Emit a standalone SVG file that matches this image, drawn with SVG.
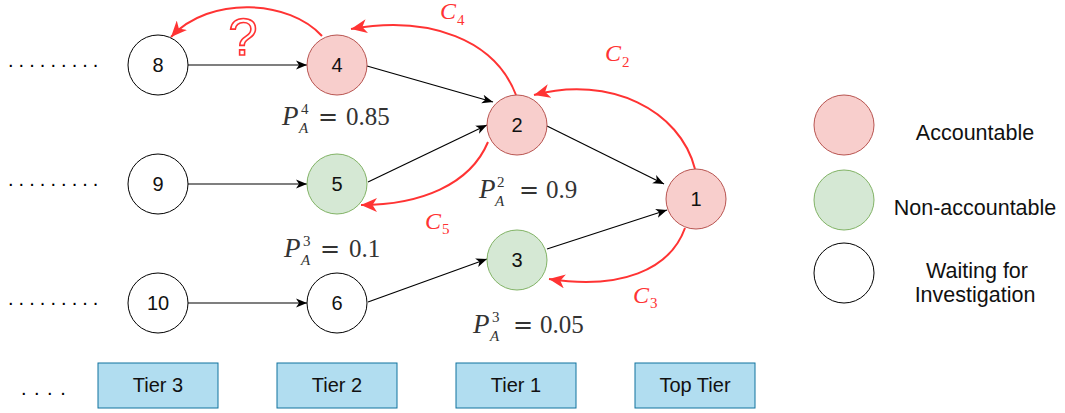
<svg xmlns="http://www.w3.org/2000/svg" width="1065" height="413" viewBox="0 0 1065 413">
<style>
.w{fill:#fff;stroke:#000;stroke-width:1}
.r{fill:#f8cecc;stroke:#b85450;stroke-width:1}
.g{fill:#d5e8d4;stroke:#82b366;stroke-width:1}
.nl{font-family:"Liberation Sans",Arial,sans-serif;font-size:20px;text-anchor:middle;fill:#111}
.lg{font-family:"Liberation Sans",Arial,sans-serif;font-size:21.5px;text-anchor:middle;fill:#111}
.tb{fill:#b1ddf0;stroke:#10739e;stroke-width:1}
.m{font-family:"Liberation Serif","DejaVu Serif",serif;fill:#333;font-size:25px}
.mi{font-style:italic;font-size:27px}
.ms{font-size:15px}
.eq{font-family:"DejaVu Serif",serif;font-size:24px}
.c{font-family:"Liberation Serif","DejaVu Serif",serif;fill:#ff3333;font-style:italic;font-size:24px}
.cs{font-style:normal;font-size:15px}
.bl{fill:none;stroke:#000;stroke-width:1.2;marker-end:url(#ab)}
.rl{fill:none;stroke:#ff3333;stroke-width:2;marker-end:url(#ar)}
.dots{font-family:"Liberation Sans",Arial,sans-serif;font-size:20px;fill:#000}
</style>
<defs>
<marker id="ab" markerUnits="userSpaceOnUse" markerWidth="12" markerHeight="10" refX="11" refY="5" orient="auto" viewBox="0 0 12 10"><path d="M0,0.5 L11,5 L0,9.5 L3,5 Z" fill="#000"/></marker>
<marker id="ar" markerUnits="userSpaceOnUse" markerWidth="17" markerHeight="14" refX="16" refY="7" orient="auto" viewBox="0 0 17 14"><path d="M0,0 L16,7 L0,14 L4.5,7 Z" fill="#ff3333"/></marker>
</defs>
<rect width="1065" height="413" fill="#fff"/>

<g id="dots">
<text class="dots" x="8" y="67" letter-spacing="5.05">.........</text>
<text class="dots" x="8" y="186" letter-spacing="5.05">.........</text>
<text class="dots" x="8" y="305" letter-spacing="5.05">.........</text>
<text class="dots" x="21" y="395" letter-spacing="7.5">....</text>
</g>

<g id="connectors">
<path class="bl" d="M188 65 L307 65"/>
<path class="bl" d="M188 184 L307 184"/>
<path class="bl" d="M188 303 L307 303"/>
<path class="bl" d="M367 66 L493 102"/>
<path class="bl" d="M368 182 L487 125"/>
<path class="bl" d="M547 126 L664 184"/>
<path class="bl" d="M368 302 L487 259"/>
<path class="bl" d="M547 249 L667 210"/>
<path class="rl" d="M322 36 C290 0, 210 -5, 171 37"/>
<path class="rl" d="M516 95 C495 40, 430 15, 351 29"/>
<path class="rl" d="M695 169 C680 110, 610 75, 534 95"/>
<path class="rl" d="M488 142 C470 185, 420 205, 361 205"/>
<path class="rl" d="M685 228 C670 270, 620 290, 549 279"/>
</g>

<g id="node-8"><circle class="w" cx="158" cy="65" r="30"/><text class="nl" x="158" y="72">8</text></g>
<g id="node-9"><circle class="w" cx="158" cy="184" r="30"/><text class="nl" x="158" y="191">9</text></g>
<g id="node-10"><circle class="w" cx="158" cy="303" r="30"/><text class="nl" x="158" y="310">10</text></g>
<g id="node-4"><circle class="r" cx="337" cy="65" r="30"/><text class="nl" x="337" y="72">4</text></g>
<g id="node-5"><circle class="g" cx="337" cy="184" r="30"/><text class="nl" x="337" y="191">5</text></g>
<g id="node-6"><circle class="w" cx="337" cy="303" r="30"/><text class="nl" x="337" y="310">6</text></g>
<g id="node-2"><circle class="r" cx="517" cy="125" r="30"/><text class="nl" x="517" y="132">2</text></g>
<g id="node-3"><circle class="g" cx="517" cy="260" r="30"/><text class="nl" x="517" y="267">3</text></g>
<g id="node-1"><circle class="r" cx="696" cy="199" r="30"/><text class="nl" x="696" y="206">1</text></g>

<g id="question"><text x="243" y="55" font-family="Liberation Sans,Arial,sans-serif" font-size="52" text-anchor="middle" fill="#fff" stroke="#ff3333" stroke-width="1.6">?</text></g>

<g id="label-p4">
<text class="m mi" x="282" y="125">P</text>
<text class="m ms" x="301" y="114">4</text>
<text class="m ms" x="299" y="133" font-style="italic">A</text>
<text class="m eq" x="318" y="125">=</text>
<text class="m" x="346" y="125">0.85</text>
</g>
<g id="label-p2">
<text class="m mi" x="479" y="198">P</text>
<text class="m ms" x="497" y="187">2</text>
<text class="m ms" x="495" y="206" font-style="italic">A</text>
<text class="m eq" x="519" y="198">=</text>
<text class="m" x="546" y="198">0.9</text>
</g>
<g id="label-p3a">
<text class="m mi" x="284" y="257">P</text>
<text class="m ms" x="303" y="246">3</text>
<text class="m ms" x="301" y="265" font-style="italic">A</text>
<text class="m eq" x="320" y="257">=</text>
<text class="m" x="349" y="257">0.1</text>
</g>
<g id="label-p3b">
<text class="m mi" x="473" y="333">P</text>
<text class="m ms" x="492" y="322">3</text>
<text class="m ms" x="490" y="341" font-style="italic">A</text>
<text class="m eq" x="513" y="333">=</text>
<text class="m" x="540" y="333">0.05</text>
</g>

<g id="label-c4"><text class="c" x="440" y="19">C<tspan class="cs" x="457" y="25">4</tspan></text></g>
<g id="label-c2"><text class="c" x="605" y="61">C<tspan class="cs" x="622" y="67">2</tspan></text></g>
<g id="label-c5"><text class="c" x="425" y="229">C<tspan class="cs" x="442" y="234">5</tspan></text></g>
<g id="label-c3"><text class="c" x="633" y="303">C<tspan class="cs" x="650" y="308">3</tspan></text></g>

<g id="tier-3"><rect class="tb" x="98" y="363" width="120" height="45"/><text class="nl" x="158" y="392">Tier 3</text></g>
<g id="tier-2"><rect class="tb" x="277" y="363" width="120" height="45"/><text class="nl" x="337" y="392">Tier 2</text></g>
<g id="tier-1"><rect class="tb" x="456" y="363" width="120" height="45"/><text class="nl" x="516" y="392">Tier 1</text></g>
<g id="tier-top"><rect class="tb" x="635" y="363" width="120" height="45"/><text class="nl" x="695" y="392">Top Tier</text></g>

<g id="legend-accountable"><circle class="r" cx="844" cy="125" r="30"/><text class="lg" x="975" y="140">Accountable</text></g>
<g id="legend-non-accountable"><circle class="g" cx="844" cy="200" r="30"/><text class="lg" x="975" y="215">Non-accountable</text></g>
<g id="legend-waiting"><circle class="w" cx="844" cy="273" r="30"/><text class="lg" x="977" y="278">Waiting for</text><text class="lg" x="975" y="302">Investigation</text></g>
</svg>
